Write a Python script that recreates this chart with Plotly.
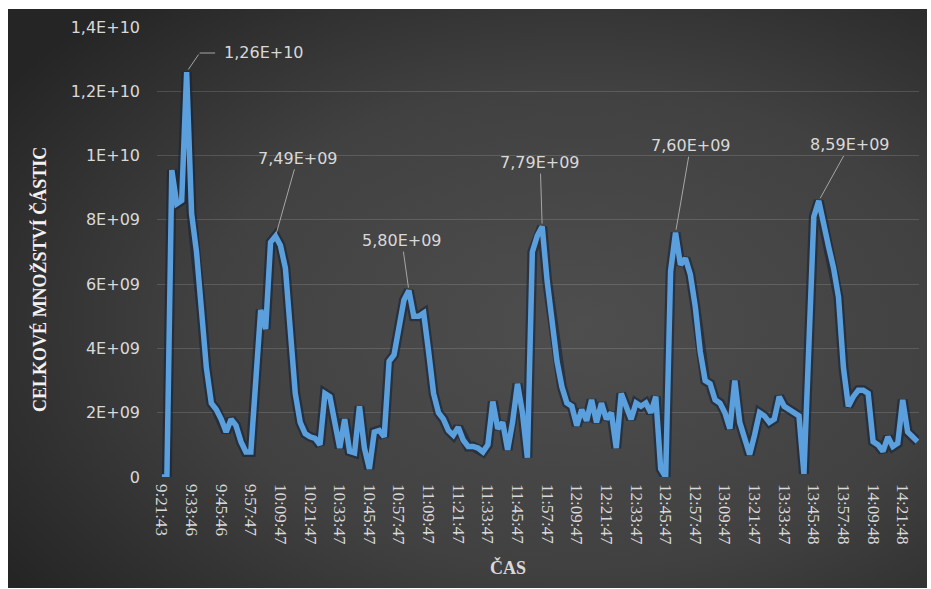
import base64
import plotly.graph_objects as go

# Total particle count (billions) sampled roughly every 2 minutes
particles_e9 = [
    0.0, 0.0, 9.55, 8.5, 8.6, 12.6, 8.2, 7.0, 5.2, 3.4,
    2.3, 2.1, 1.8, 1.4, 1.8, 1.6, 1.1, 0.78, 0.78, 2.9,
    5.2, 4.6, 7.3, 7.49, 7.2, 6.5, 4.3, 2.6, 1.7, 1.35,
    1.25, 1.2, 1.0, 2.6, 2.5, 1.8, 0.9, 1.8, 0.8, 0.75,
    2.2, 0.9, 0.25, 1.4, 1.45, 1.25, 3.6, 3.8, 4.6, 5.5,
    5.80, 5.0, 5.0, 5.1, 3.9, 2.6, 2.0, 1.8, 1.45, 1.3,
    1.55, 1.15, 0.95, 0.95, 0.9, 0.78, 1.0, 2.35, 1.5, 1.7,
    0.85, 1.7, 2.9, 2.0, 0.6, 7.0, 7.5, 7.79, 6.1, 4.9,
    3.6, 2.8, 2.3, 2.2, 1.6, 2.1, 1.75, 2.4, 1.7, 2.3,
    1.8, 2.0, 0.9, 2.6, 2.2, 1.8, 2.3, 2.2, 2.3, 2.0,
    2.5, 0.25, 0.0, 6.4, 7.60, 6.6, 6.8, 6.3, 5.3, 3.9,
    3.0, 2.9, 2.4, 2.3, 2.0, 1.5, 3.0, 1.7, 1.2, 0.7,
    1.3, 2.0, 1.9, 1.7, 1.8, 2.5, 2.2, 2.1, 2.0, 1.9,
    0.1, 4.6, 8.1, 8.59, 7.8, 7.16, 6.5, 5.6, 3.4, 2.2,
    2.5, 2.7, 2.7, 2.6, 1.1, 1.0, 0.8, 1.25, 0.95, 1.05,
    2.4, 1.4, 1.25, 1.1,
]
values = [v * 1e9 for v in particles_e9]
sample_idx = list(range(len(values)))

# Time labels, one every 6 samples
time_labels = [
    "9:21:43", "9:33:46", "9:45:46", "9:57:47", "10:09:47", "10:21:47",
    "10:33:47", "10:45:47", "10:57:47", "11:09:47", "11:21:47", "11:33:47",
    "11:45:47", "11:57:47", "12:09:47", "12:21:47", "12:33:47", "12:45:47",
    "12:57:47", "13:09:47", "13:21:47", "13:33:47", "13:45:48", "13:57:48",
    "14:09:48", "14:21:48",
]
label_step = 6
time_ticks = [i * label_step for i in range(len(time_labels))]

y_ticks = [0, 2e9, 4e9, 6e9, 8e9, 1e10, 1.2e10, 1.4e10]
y_ticktext = ["0", "2E+09", "4E+09", "6E+09", "8E+09", "1E+10", "1,2E+10", "1,4E+10"]

# Labelled peaks: sample index, text, text offset (px)
peaks = [
    (23, "7,49E+09", 22, -78),
    (50, "5,80E+09", -7, -50),
    (77, "7,79E+09", -2, -64),
    (104, "7,60E+09", 15, -87),
    (133, "8,59E+09", 31, -56),
]
first_peak = 5

LABEL_GREY = "#d9d9d9"
BLUE = "#5ba0dc"

svg = """<svg xmlns='http://www.w3.org/2000/svg' width='919' height='579'>
<defs><radialGradient id='g' cx='0.62' cy='0.55' r='0.75'>
<stop offset='0' stop-color='#4e4e4e'/><stop offset='0.55' stop-color='#414141'/>
<stop offset='1' stop-color='#252525'/></radialGradient></defs>
<rect width='919' height='579' fill='url(#g)'/></svg>"""
bg_src = "data:image/svg+xml;base64," + base64.b64encode(svg.encode()).decode()

fig = go.Figure()
fig.add_trace(go.Scatter(
    x=sample_idx, y=values, mode="lines",
    line=dict(color="rgba(20,35,55,0.6)", width=10),
    hoverinfo="skip", showlegend=False,
))
fig.add_trace(go.Scatter(
    x=sample_idx, y=values, mode="lines",
    line=dict(color=BLUE, width=5.5),
    showlegend=False,
))

annotations = []
for idx, txt, ax, ay in peaks:
    annotations.append(dict(
        x=idx, y=values[idx], text=txt, showarrow=True, arrowhead=0,
        arrowwidth=1, arrowcolor="#a6a6a6", ax=ax, ay=ay, standoff=3,
        font=dict(family="DejaVu Sans", size=16, color=LABEL_GREY),
    ))
# Elbow leader for the highest peak
annotations.append(dict(
    x=first_peak, y=values[first_peak], text="", showarrow=True, arrowhead=0,
    arrowwidth=1, arrowcolor="#a6a6a6", ax=13, ay=-19, standoff=3,
))
annotations.append(dict(
    x=first_peak, y=values[first_peak], text="", showarrow=True, arrowhead=0,
    arrowwidth=1, arrowcolor="#a6a6a6", ax=17, ay=0, xshift=13, yshift=19,
))
annotations.append(dict(
    x=first_peak, y=values[first_peak], text="1,26E+10", showarrow=False,
    xanchor="left", yanchor="middle", xshift=35, yshift=20,
    font=dict(family="DejaVu Sans", size=16, color=LABEL_GREY),
))
# Axis titles
annotations.append(dict(
    x=0.46, y=-0.2, xref="paper", yref="paper", text="ČAS", showarrow=False,
    xanchor="center", yanchor="middle",
    font=dict(family="Liberation Serif", size=18, color=LABEL_GREY, weight="bold"),
))
annotations.append(dict(
    x=-0.155, y=0.44, xref="paper", yref="paper", text="CELKOVÉ MNOŽSTVÍ ČÁSTIC",
    showarrow=False, textangle=-90, xanchor="center", yanchor="middle",
    font=dict(family="Liberation Serif", size=18, color="#f2f2f2", weight="bold"),
))

fig.update_layout(
    width=931, height=589,
    margin=dict(l=157, r=12, t=27, b=112),
    paper_bgcolor="white", plot_bgcolor="rgba(0,0,0,0)",
    images=[dict(
        source=bg_src, xref="paper", yref="paper",
        x=-149 / 762, y=1 + 18 / 450, sizex=919 / 762, sizey=579 / 450,
        xanchor="left", yanchor="top", sizing="stretch", layer="below",
    )],
    annotations=annotations,
    xaxis=dict(
        range=[-1, 153.3], tickvals=time_ticks, ticktext=time_labels,
        tickangle=90, showgrid=False, zeroline=False, showline=False,
        ticks="", ticklabelstandoff=6,
        tickfont=dict(family="Liberation Serif", size=17, color=LABEL_GREY),
    ),
    yaxis=dict(
        range=[0, 1.4e10], tickvals=y_ticks, ticktext=y_ticktext,
        showgrid=True, gridcolor="rgba(255,255,255,0.14)", gridwidth=1,
        zeroline=False, showline=False, ticks="", ticklabelstandoff=16,
        tickfont=dict(family="DejaVu Sans", size=16, color=LABEL_GREY),
    ),
)

fig.write_html("out.html")
